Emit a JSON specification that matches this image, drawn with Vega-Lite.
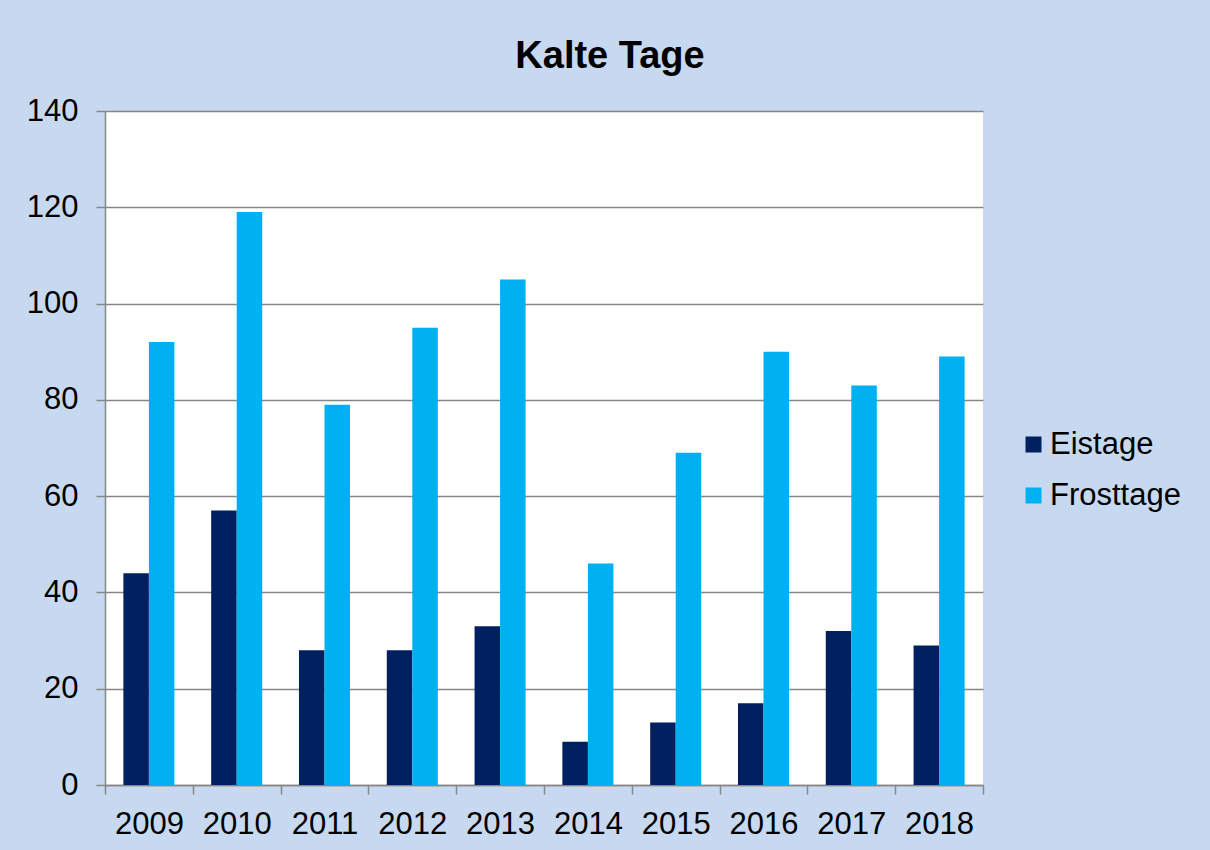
{
  "$schema": "https://vega.github.io/schema/vega-lite/v6.json",
  "width": 878,
  "height": 674,
  "autosize": {"type": "none"},
  "padding": {"left": 105, "top": 111, "right": 227, "bottom": 65},
  "background": "#C6D9F0",
  "config": {
    "font": "Liberation Sans",
    "view": {"fill": "white", "stroke": null}
  },
  "title": {
    "text": "Kalte Tage",
    "fontSize": 38,
    "fontWeight": "bold",
    "font": "Liberation Sans",
    "color": "black",
    "anchor": "middle",
    "dx": 66,
    "offset": 19
  },
  "data": {
    "values": [
      {"year": "2009", "series": "Eistage", "days": 44},
      {"year": "2009", "series": "Frosttage", "days": 92},
      {"year": "2010", "series": "Eistage", "days": 57},
      {"year": "2010", "series": "Frosttage", "days": 119},
      {"year": "2011", "series": "Eistage", "days": 28},
      {"year": "2011", "series": "Frosttage", "days": 79},
      {"year": "2012", "series": "Eistage", "days": 28},
      {"year": "2012", "series": "Frosttage", "days": 95},
      {"year": "2013", "series": "Eistage", "days": 33},
      {"year": "2013", "series": "Frosttage", "days": 105},
      {"year": "2014", "series": "Eistage", "days": 9},
      {"year": "2014", "series": "Frosttage", "days": 46},
      {"year": "2015", "series": "Eistage", "days": 13},
      {"year": "2015", "series": "Frosttage", "days": 69},
      {"year": "2016", "series": "Eistage", "days": 17},
      {"year": "2016", "series": "Frosttage", "days": 90},
      {"year": "2017", "series": "Eistage", "days": 32},
      {"year": "2017", "series": "Frosttage", "days": 83},
      {"year": "2018", "series": "Eistage", "days": 29},
      {"year": "2018", "series": "Frosttage", "days": 89}
    ]
  },
  "mark": {"type": "bar", "stroke": null},
  "encoding": {
    "x": {
      "field": "year",
      "type": "nominal",
      "scale": {"paddingInner": 0, "paddingOuter": 0},
      "axis": {
        "title": null,
        "labelAngle": 0,
        "labelFontSize": 31,
        "labelColor": "black",
        "labelPadding": 15,
        "domainColor": "#868686",
        "domainWidth": 1.5,
        "tickColor": "#868686",
        "tickWidth": 1.5,
        "tickSize": 9,
        "tickBand": "extent",
        "grid": false
      }
    },
    "xOffset": {"field": "series", "type": "nominal", "scale": {"paddingInner": 0, "paddingOuter": 0.72}},
    "y": {
      "field": "days",
      "type": "quantitative",
      "scale": {"domain": [0, 140], "nice": false},
      "axis": {
        "title": null,
        "values": [0, 20, 40, 60, 80, 100, 120, 140],
        "labelFontSize": 31,
        "labelColor": "black",
        "labelPadding": 18,
        "domainColor": "#868686",
        "domainWidth": 1.5,
        "tickColor": "#868686",
        "tickWidth": 1.5,
        "tickSize": 9,
        "gridColor": "#868686",
        "gridWidth": 1.5
      }
    },
    "color": {
      "field": "series",
      "type": "nominal",
      "scale": {"domain": ["Eistage", "Frosttage"], "range": ["#002060", "#00B0F0"]},
      "legend": {
        "title": null,
        "orient": "none",
        "legendX": 913,
        "legendY": 318,
        "symbolType": "square",
        "symbolSize": 256,
        "symbolStrokeWidth": 0,
        "labelFontSize": 31,
        "labelColor": "black",
        "labelOffset": 1,
        "rowPadding": 19,
        "padding": 0
      }
    }
  }
}
